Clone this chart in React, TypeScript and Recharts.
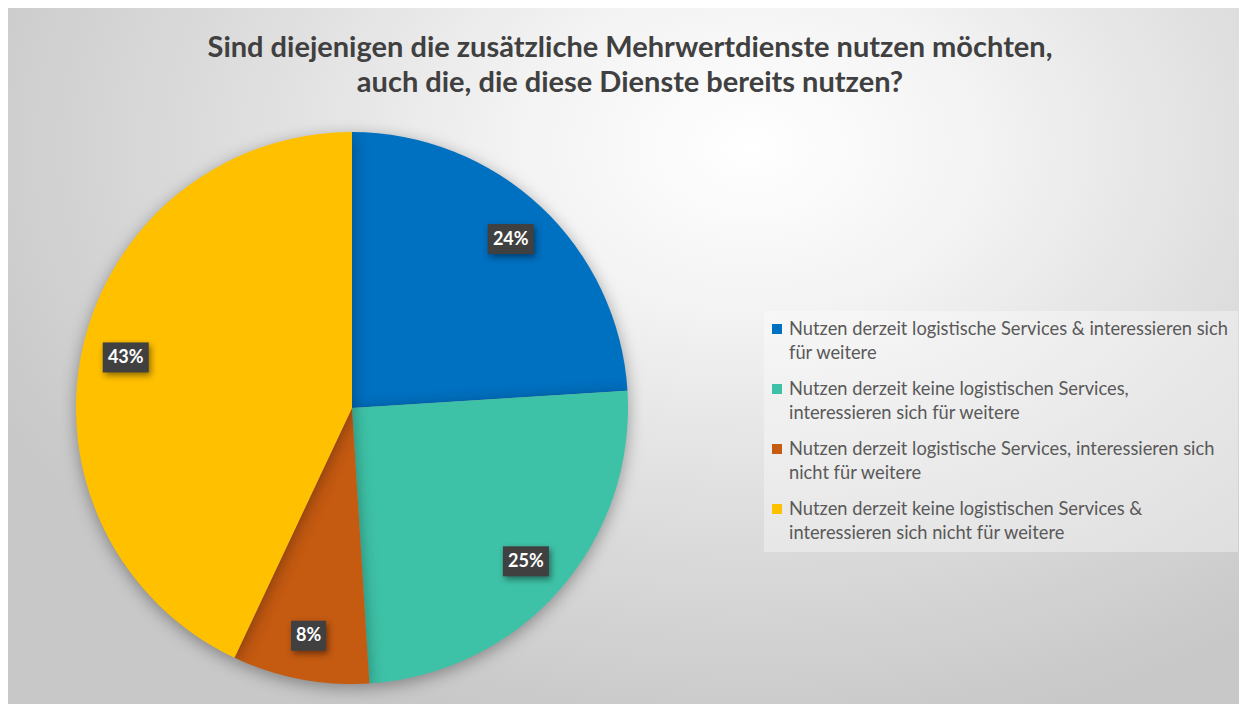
import { PieChart, Pie, Cell, Legend } from 'recharts';

// line breaks follow the wrapping of the original legend
const categories = [
  'Nutzen derzeit logistische Services & interessieren sich\nfür weitere',
  'Nutzen derzeit keine logistischen Services,\ninteressieren sich für weitere',
  'Nutzen derzeit logistische Services, interessieren sich\nnicht für weitere',
  'Nutzen derzeit keine logistischen Services &\ninteressieren sich nicht für weitere',
];
const shares = [24, 25, 8, 43];
const colors = ['#0070c0', '#3ec2a7', '#c55a11', '#ffc000'];

const titleLines = [
  'Sind diejenigen die zusätzliche Mehrwertdienste nutzen möchten,',
  'auch die, die diese Dienste bereits nutzen?',
];

const data = categories.map((name, i) => ({ name, value: shares[i] }));

const RADIAN = Math.PI / 180;

function renderLabel(props: any) {
  const { cx, cy, midAngle, outerRadius, value } = props;
  const r = outerRadius * 0.84;
  const x = cx + r * Math.cos(-midAngle * RADIAN);
  const y = cy + r * Math.sin(-midAngle * RADIAN);
  const text = `${value}%`;
  const w = text.length * 11 + 13;
  const h = 30;
  return (
    <g>
      <rect
        x={x - w / 2}
        y={y - h / 2}
        width={w}
        height={h}
        fill="#404040"
        style={{ filter: 'drop-shadow(2px 3px 3px rgba(0,0,0,0.45))' }}
      />
      <text
        x={x}
        y={y + 1}
        fill="#ffffff"
        textAnchor="middle"
        dominantBaseline="middle"
        fontFamily="Lato, 'Open Sans', sans-serif"
        fontWeight={700}
        fontSize={18}
      >
        {text}
      </text>
    </g>
  );
}

function LegendBox({ payload }: any) {
  const items = [...(payload || [])].sort(
    (a: any, b: any) => categories.indexOf(a.value) - categories.indexOf(b.value)
  );
  return (
    <div
      style={{
        background: 'rgba(255,255,255,0.35)',
        padding: '5px 4px 8px 8px',
        fontFamily: 'Lato, Carlito, sans-serif',
        fontSize: 18.3,
        lineHeight: '24px',
        color: '#595959',
      }}
    >
      {items.map((entry: any, i: number) => (
        <div
          key={`leg-${i}`}
          style={{ display: 'flex', alignItems: 'flex-start', marginBottom: i < 3 ? 12 : 0 }}
        >
          <span
            style={{
              width: 10,
              height: 10,
              background: entry.color,
              flex: '0 0 10px',
              marginTop: 8,
              marginRight: 7,
            }}
          />
          <span style={{ whiteSpace: 'pre-line' }}>{entry.value}</span>
        </div>
      ))}
    </div>
  );
}

export default function App() {
  return (
    <div
      style={{
        position: 'relative',
        width: 1240,
        height: 697,
        marginLeft: -1,
        marginTop: -1,
        borderTop: '1px solid #d9d9d9',
        background:
          'radial-gradient(ellipse 75% 95% at 60% 20%, #ffffff 0%, #f3f3f3 25%, #dedede 55%, #c8c8c8 90%)',
        overflow: 'hidden',
      }}
    >
      <div
        style={{
          position: 'absolute',
          left: 0,
          top: 20,
          width: 1246,
          textAlign: 'center',
          fontFamily: 'Lato, Carlito, sans-serif',
          fontWeight: 700,
          fontSize: 29,
          lineHeight: '35px',
          color: '#404040',
        }}
      >
        {titleLines.map((l, i) => (
          <div key={i}>{l}</div>
        ))}
      </div>
      <PieChart
        width={1240}
        height={697}
        margin={{ top: 0, right: 0, bottom: 0, left: 0 }}
        style={{ position: 'absolute', left: 0, top: 0 }}
      >
        <Pie
          data={data}
          dataKey="value"
          nameKey="name"
          cx={345}
          cy={400}
          outerRadius={276}
          startAngle={90}
          endAngle={-270}
          stroke="none"
          label={renderLabel}
          labelLine={false}
          isAnimationActive={false}
          style={{ filter: 'drop-shadow(0px 4px 8px rgba(0,0,0,0.35))' }}
        >
          {data.map((entry, index) => (
            <Cell key={`cell-${index}`} fill={colors[index]} />
          ))}
        </Pie>
        <Legend
          layout="vertical"
          align="right"
          verticalAlign="top"
          content={<LegendBox />}
          wrapperStyle={{ left: 757, top: 303, width: 474, right: 'auto' }}
        />
      </PieChart>
    </div>
  );
}
